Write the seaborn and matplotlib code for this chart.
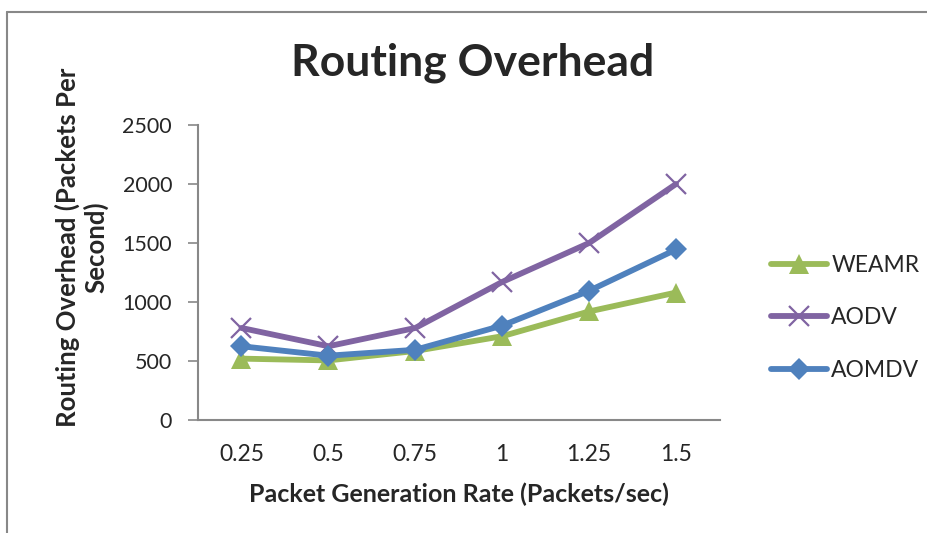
import matplotlib
matplotlib.use("Agg")
import matplotlib.pyplot as plt
from matplotlib.lines import Line2D
import seaborn as sns
import pandas as pd

rates = ["0.25", "0.5", "0.75", "1", "1.25", "1.5"]
weamr = [520, 505, 585, 710, 920, 1080]
aodv = [780, 625, 780, 1170, 1500, 2000]
aomdv = [625, 545, 595, 800, 1095, 1445]
protocols = ["WEAMR", "AODV", "AOMDV"]
colors = {"WEAMR": "#9BBB59", "AODV": "#8064A2", "AOMDV": "#4F81BD"}
marker_style = {
    "WEAMR": dict(marker="^", markersize=14, markeredgewidth=0),
    "AODV": dict(marker="x", markersize=15, markeredgewidth=1.6),
    "AOMDV": dict(marker="D", markersize=11, markeredgewidth=0),
}

df = pd.DataFrame({
    "rate": rates * 3,
    "overhead": weamr + aodv + aomdv,
    "protocol": [p for p in protocols for _ in rates],
})

sns.set_theme(style="white")
plt.rcParams["font.family"] = ["Lato", "DejaVu Sans"]

fig = plt.figure(figsize=(9.27, 5.33), dpi=100)
ax = fig.add_axes([198 / 927, 113 / 533, (719.5 - 198) / 927, (420 - 125) / 533])

for p in protocols:
    sub = df[df["protocol"] == p]
    sns.lineplot(data=sub, x="rate", y="overhead", color=colors[p], linewidth=4.2,
                 sort=False, ax=ax, label=p, markeredgecolor=colors[p],
                 **marker_style[p])

ax.set_xlim(-0.5, len(rates) - 0.5)
ax.set_ylim(0, 2500)
ax.set_yticks([0, 500, 1000, 1500, 2000, 2500])
ax.tick_params(axis="y", direction="out", length=7.2, width=1.2, color="#888888",
               labelsize=15.5, pad=11.5, left=True)
ax.tick_params(axis="x", length=0, labelsize=16.5, pad=17)
for s in ["top", "right"]:
    ax.spines[s].set_visible(False)
for s in ["left", "bottom"]:
    ax.spines[s].set_color("#888888")
    ax.spines[s].set_linewidth(1.5)

ax.set_xlabel("Packet Generation Rate (Packets/sec)", fontsize=18, fontweight="bold",
              labelpad=13)
ax.set_ylabel("Routing Overhead (Packets Per\nSecond)", fontsize=18.5, fontweight="bold",
              linespacing=1.15)
ax.yaxis.set_label_coords(-0.171, 0.585)
fig.text(473 / 927, 1 - 63 / 533, "Routing Overhead", fontsize=32, fontweight="bold",
         ha="center", va="center")

handles, labels = ax.get_legend_handles_labels()
ax.get_legend().remove()
fig.legend(handles, labels, loc="center left", bbox_to_anchor=(750 / 927, 1 - 318 / 533),
           frameon=False, fontsize=16.5, handlelength=2.45, handletextpad=0.2,
           labelspacing=1.38)

fig.add_artist(Line2D([7 / 927, 7 / 927], [0, 1 - 12 / 533], transform=fig.transFigure,
                      color="#888888", linewidth=1.5))
fig.add_artist(Line2D([7 / 927, 1], [1 - 12 / 533, 1 - 12 / 533], transform=fig.transFigure,
                      color="#888888", linewidth=1.5))

fig.savefig("out.png", dpi=100)
